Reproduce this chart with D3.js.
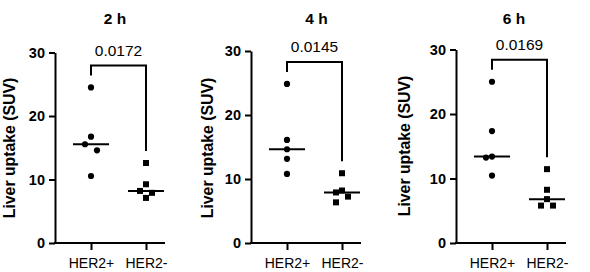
<!DOCTYPE html>
<html>
<head>
<meta charset="utf-8">
<script src="https://cdn.jsdelivr.net/npm/d3@7"></script>
<style>
  body { margin: 0; background: #fff; }
  svg { display: block; font-family: "Liberation Sans", Arial, sans-serif; }
</style>
</head>
<body>
<svg id="chart" width="590" height="272"></svg>
<script>
const categories = ["HER2+", "HER2-"]
const timepoints = ["2 h", "4 h", "6 h"]
const pValues = ["0.0172", "0.0145", "0.0169"]
const her2Pos = [
  [24.5, 16.75, 15.55, 14.6, 10.55],
  [24.85, 16.1, 14.65, 13.15, 10.8],
  [25.0, 17.35, 13.4, 13.25, 10.45]
]
const her2Neg = [
  [12.6, 9.25, 8.2, 7.9, 7.1],
  [10.9, 8.2, 7.9, 7.25, 6.35],
  [11.45, 8.25, 6.8, 5.8, 5.8]
]
const yTicks = [0, 10, 20, 30]

// per-panel layout (pixels)
const panels = [
  { left: 55, top: 52.5, titleX: 115, labelX: 15, labelY: 148 },
  { left: 251, top: 51, titleX: 316.5, labelX: 213, labelY: 148 },
  { left: 456, top: 49.5, titleX: 514, labelX: 410, labelY: 146 }
]
const bottom = 243
const axisLen = 110

const svg = d3.select("#chart")
svg.append("rect").attr("width", 590).attr("height", 272).attr("fill", "#fff")

// simple greedy dodge so points with close values spread sideways
function dodge(values, y, step, minDist) {
  const placed = []
  const offsets = new Array(values.length)
  const order = d3.range(values.length).sort((a, b) => values[b] - values[a])
  order.forEach(i => {
    const py = y(values[i])
    let best = 0, bestD = -1
    for (const dx of [0, -step, step]) {
      const dmin = placed.length ? d3.min(placed, p => Math.hypot(p.dx - dx, p.y - py)) : Infinity
      if (dmin >= minDist) { best = dx; break }
      if (dmin > bestD) { best = dx; bestD = dmin }
    }
    offsets[i] = best
    placed.push({ dx: best, y: py })
  })
  return offsets
}

panels.forEach((p, k) => {
  const g = svg.append("g")

  const y = d3.scaleLinear().domain([0, 30]).range([bottom, p.top])
  const x = d3.scalePoint().domain(categories).range([p.left + 36, p.left + 91])

  // title
  g.append("text")
    .attr("x", p.titleX)
    .attr("y", 23.5)
    .attr("text-anchor", "middle")
    .attr("font-size", 15.5)
    .attr("font-weight", "bold")
    .text(timepoints[k])

  // y axis
  const yAxis = g.append("g")
    .attr("transform", `translate(${p.left},0)`)
    .call(d3.axisLeft(y).tickValues(yTicks).tickSize(6).tickSizeOuter(0).tickPadding(4))
  yAxis.selectAll("path, line").attr("stroke", "#000").attr("stroke-width", 2)
  yAxis.selectAll("text")
    .attr("font-size", 14.5)
    .attr("font-weight", "bold")
    .attr("font-family", "Liberation Sans, Arial, sans-serif")
    .attr("fill", "#000")

  // x axis
  const xAxis = g.append("g")
    .attr("transform", `translate(0,${bottom})`)
    .call(d3.axisBottom(x).tickSize(7).tickPadding(8))
  xAxis.select(".domain").remove()
  xAxis.append("line")
    .attr("x1", p.left - 1).attr("x2", p.left + axisLen)
    .attr("stroke", "#000").attr("stroke-width", 2)
  xAxis.selectAll("line").attr("stroke", "#000").attr("stroke-width", 2)
  xAxis.selectAll("text")
    .attr("font-size", 14)
    .attr("font-family", "Liberation Sans, Arial, sans-serif")
    .attr("fill", "#000")

  // y axis title
  g.append("text")
    .attr("transform", `translate(${p.labelX},${p.labelY}) rotate(-90)`)
    .attr("text-anchor", "middle")
    .attr("font-size", 15.8)
    .attr("font-weight", "bold")
    .text("Liver uptake (SUV)")

  const groups = [
    { cat: categories[0], values: her2Pos[k], shape: "circle" },
    { cat: categories[1], values: her2Neg[k], shape: "square" }
  ]

  groups.forEach(grp => {
    const offs = dodge(grp.values, y, 6, 8.8)
    const cx = x(grp.cat)
    const pts = grp.values.map((v, i) => ({ v, dx: offs[i] }))

    if (grp.shape === "circle") {
      g.selectAll(null).data(pts).enter().append("circle")
        .attr("cx", d => cx + d.dx)
        .attr("cy", d => y(d.v))
        .attr("r", 3.1)
        .attr("fill", "#000")
    } else {
      g.selectAll(null).data(pts).enter().append("rect")
        .attr("x", d => cx + d.dx - 3)
        .attr("y", d => y(d.v) - 3)
        .attr("width", 6)
        .attr("height", 6)
        .attr("fill", "#000")
    }

    // median line
    const med = d3.median(grp.values)
    g.append("line")
      .attr("x1", cx - 18).attr("x2", cx + 18)
      .attr("y1", y(med)).attr("y2", y(med))
      .attr("stroke", "#000").attr("stroke-width", 2)
  })

  // significance bracket
  const x1 = x(categories[0]), x2 = x(categories[1])
  const leg1 = y(d3.max(her2Pos[k])) - 12
  const leg2 = y(d3.max(her2Neg[k])) - 12
  const topY = Math.min(leg1, leg2) - 10
  g.append("path")
    .attr("d", `M${x1},${leg1}V${topY}H${x2}V${leg2}`)
    .attr("fill", "none")
    .attr("stroke", "#000")
    .attr("stroke-width", 2)
  g.append("text")
    .attr("x", (x1 + x2) / 2)
    .attr("y", topY - 9.5)
    .attr("text-anchor", "middle")
    .attr("font-size", 15.5)
    .text(pValues[k])
})
</script>
</body>
</html>
